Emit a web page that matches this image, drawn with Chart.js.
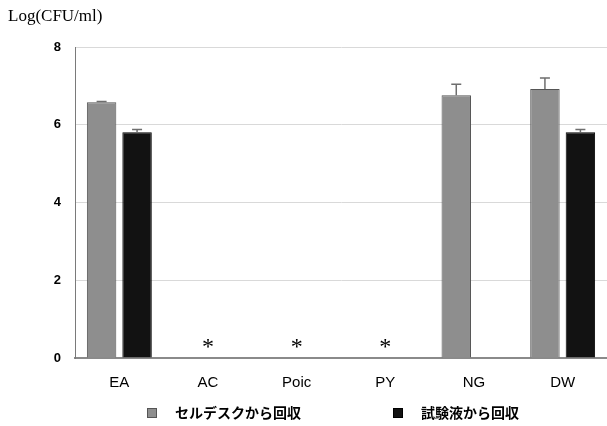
<!DOCTYPE html>
<html>
<head>
<meta charset="utf-8">
<script src="https://cdn.jsdelivr.net/npm/chart.js@4.4.0/dist/chart.umd.min.js"></script>
<style>
  html, body { margin: 0; padding: 0; background: #fff; }
  #wrap { width: 607px; height: 426px; }
</style>
</head>
<body>
<div id="wrap"><canvas id="cfuChart" width="607" height="426"></canvas></div>
<script>
// data
const categories = ['EA', 'AC', 'Poic', 'PY', 'NG', 'DW'];
const seriesLabels = ['セルデスクから回収', '試験液から回収'];
const deskValues = [6.58, null, null, null, 6.76, 6.92];
const deskErrors = [0.02, null, null, null, 0.28, 0.28];
const liquidValues = [5.81, null, null, null, null, 5.81];
const liquidErrors = [0.07, null, null, null, null, 0.07];
const notDetected = ['AC', 'Poic', 'PY'];   // marked with *
const yTicks = [0, 2, 4, 6, 8];

const errorBars = {
    id: 'errorBars',
    afterDatasetsDraw(chart) {
        const ctx = chart.ctx;
        const y = chart.scales.y;
        const errs = [deskErrors, liquidErrors];
        ctx.save();
        ctx.strokeStyle = '#6e6e6e';
        ctx.lineWidth = 1.5;
        chart.data.datasets.forEach((ds, di) => {
            const meta = chart.getDatasetMeta(di);
            meta.data.forEach((bar, i) => {
                const v = ds.data[i];
                const e = errs[di][i];
                if (v == null || e == null) return;
                const yTop = y.getPixelForValue(v + e);
                ctx.beginPath();
                ctx.moveTo(bar.x, bar.y);
                ctx.lineTo(bar.x, yTop);
                ctx.moveTo(bar.x - 5, yTop);
                ctx.lineTo(bar.x + 5, yTop);
                ctx.stroke();
            });
        });
        ctx.restore();
    }
};

const extras = {
    id: 'extras',
    afterDraw(chart) {
        const ctx = chart.ctx;
        const x = chart.scales.x;
        const y = chart.scales.y;
        ctx.save();
        // axis title
        ctx.fillStyle = '#000';
        ctx.font = '17px "Liberation Serif", serif';
        ctx.textAlign = 'left';
        ctx.textBaseline = 'middle';
        ctx.fillText('Log(CFU/ml)', 8, 17);

        // asterisks for not detected
        ctx.font = '24px "Liberation Serif", serif';
        ctx.textAlign = 'center';
        notDetected.forEach(c => {
            const px = x.getPixelForValue(categories.indexOf(c));
            ctx.fillText('*', px, y.getPixelForValue(0) - 10);
        });

        // legend
        ctx.font = 'bold 14px "Noto Sans CJK JP", sans-serif';
        ctx.textAlign = 'left';
        const legendX = [147, 393];
        chart.data.datasets.forEach((ds, i) => {
            const lx = legendX[i];
            ctx.fillStyle = ds.backgroundColor;
            ctx.strokeStyle = ds.borderColor;
            ctx.lineWidth = 1;
            ctx.fillRect(lx, 408, 10, 10);
            ctx.strokeRect(lx + 0.5, 408.5, 9, 9);
            ctx.fillStyle = '#000';
            ctx.fillText(ds.label, lx + 28, 413);
        });
        ctx.restore();
    }
};

new Chart(document.getElementById('cfuChart').getContext('2d'), {
    type: 'bar',
    data: {
        labels: categories,
        datasets: [
            {
                label: seriesLabels[0],
                data: deskValues,
                backgroundColor: '#8e8e8e',
                borderColor: '#555555',
                borderWidth: 1,
                barPercentage: 0.83,
                categoryPercentage: 0.8
            },
            {
                label: seriesLabels[1],
                data: liquidValues,
                backgroundColor: '#121212',
                borderColor: '#000000',
                borderWidth: 1,
                barPercentage: 0.83,
                categoryPercentage: 0.8
            }
        ]
    },
    options: {
        responsive: false,
        animation: false,
        layout: { padding: { top: 47, right: -4, bottom: 28, left: 0 } },
        plugins: {
            legend: { display: false },
            tooltip: { enabled: false }
        },
        scales: {
            x: {
                grid: { display: false },
                border: { color: '#8a8a8a', width: 2 },
                ticks: {
                    color: '#000',
                    font: { family: '"Liberation Sans", Arial, sans-serif', size: 15 },
                    padding: 8
                },
                afterFit(scale) { scale.height = 40; }
            },
            y: {
                min: 0,
                max: 8,
                afterBuildTicks(scale) { scale.ticks = yTicks.map(v => ({ value: v })); },
                grid: { color: '#d9d9d9', drawTicks: false },
                border: { color: '#7a7a7a', width: 1 },
                ticks: {
                    color: '#000',
                    font: { family: '"Liberation Sans", Arial, sans-serif', size: 13, weight: 'bold' },
                    padding: 14
                },
                afterFit(scale) { scale.width = 75; }
            }
        }
    },
    plugins: [errorBars, extras]
});
</script>
</body>
</html>
